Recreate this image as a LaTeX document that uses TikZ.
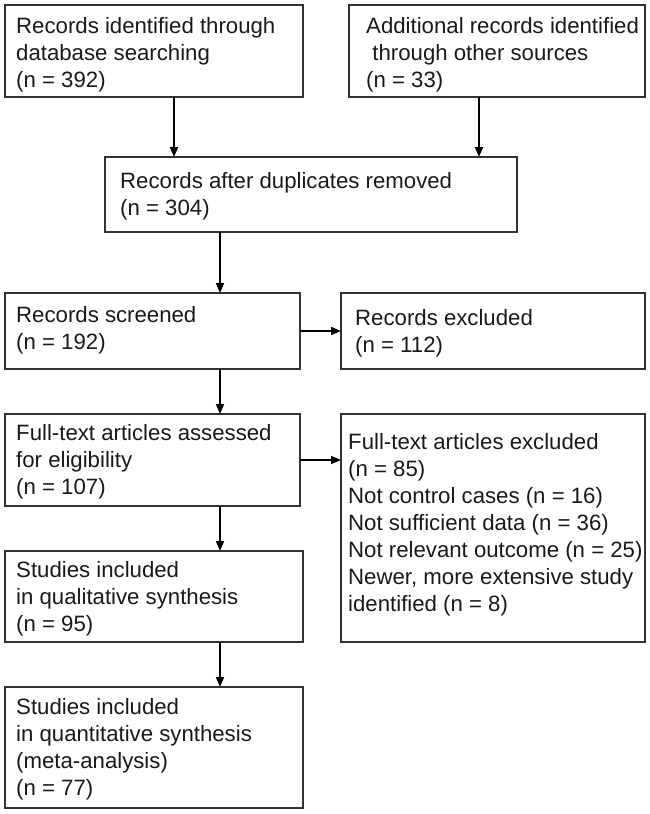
\documentclass[tikz,border=0pt]{standalone}
\usepackage{fontspec}
\setmainfont{Liberation Sans}
\usetikzlibrary{arrows.meta}
\begin{document}
\begin{tikzpicture}[x=1pt,y=-1pt,
  box/.style={draw=black!80, line width=1.2pt, rectangle, anchor=north west, inner sep=0pt, outer sep=0pt},
  txt/.style={anchor=west, align=left, inner sep=0pt, text=black!90, font=\fontsize{22.2}{27}\selectfont},
  arr/.style={line width=1.8pt, black, -{Triangle[length=10pt,width=8pt]}}]
\useasboundingbox (0,0) rectangle (650,814);
% boxes
\node[box, minimum width=298pt, minimum height=92pt] (b1) at (5,5) {};
\node[box, minimum width=296pt, minimum height=92pt] (b2) at (349,5) {};
\node[box, minimum width=412pt, minimum height=75pt] (b3) at (105,157) {};
\node[box, minimum width=295pt, minimum height=76pt] (b4) at (5,293) {};
\node[box, minimum width=304pt, minimum height=76pt] (b5) at (341,293) {};
\node[box, minimum width=295pt, minimum height=92pt] (b6) at (5,414) {};
\node[box, minimum width=304pt, minimum height=228pt] (b7) at (341,414) {};
\node[box, minimum width=298pt, minimum height=91pt] (b8) at (5,551) {};
\node[box, minimum width=298pt, minimum height=121pt] (b9) at (5,687) {};
% texts
\node[txt] (t1) at (16,55) {Records identified through\\database searching\\(n = 392)};
\node[txt] (t2) at (366,55) {Additional records identified\\\hspace*{0.28em}through other sources\\(n = 33)};
\node[txt] (t3) at (120,196) {Records after duplicates removed\\(n = 304)};
\node[txt] (t4) at (16,330.5) {Records screened\\(n = 192)};
\node[txt] (t5) at (355,333) {Records excluded\\(n = 112)};
\node[txt] (t6) at (16,462) {Full-text articles assessed\\for eligibility\\(n = 107)};
\node[txt] (t7) at (348,524.5) {Full-text articles excluded\\(n = 85)\\Not control cases (n = 16)\\Not sufficient data (n = 36)\\Not relevant outcome (n = 25)\\Newer, more extensive study\\identified (n = 8)};
\node[txt] (t8) at (16,598.5) {Studies included\\in qualitative synthesis\\(n = 95)};
\node[txt] (t9) at (16,749) {Studies included\\in quantitative synthesis\\(meta-analysis)\\(n = 77)};
% arrow columns
\coordinate (c1) at (174,0);
\coordinate (c2) at (479,0);
\coordinate (cm) at (220,0);
\draw[arr] (b1.south -| c1) -- (b3.north -| c1);
\draw[arr] (b2.south -| c2) -- (b3.north -| c2);
\draw[arr] (b3.south -| cm) -- (b4.north -| cm);
\draw[arr] (b4.south -| cm) -- (b6.north -| cm);
\draw[arr] (b6.south -| cm) -- (b8.north -| cm);
\draw[arr] (b8.south -| cm) -- (b9.north -| cm);
\draw[arr] (b4.east) -- (b4.east -| b5.west);
\draw[arr] (b6.east) -- (b6.east -| b7.west);
\end{tikzpicture}
\end{document}
